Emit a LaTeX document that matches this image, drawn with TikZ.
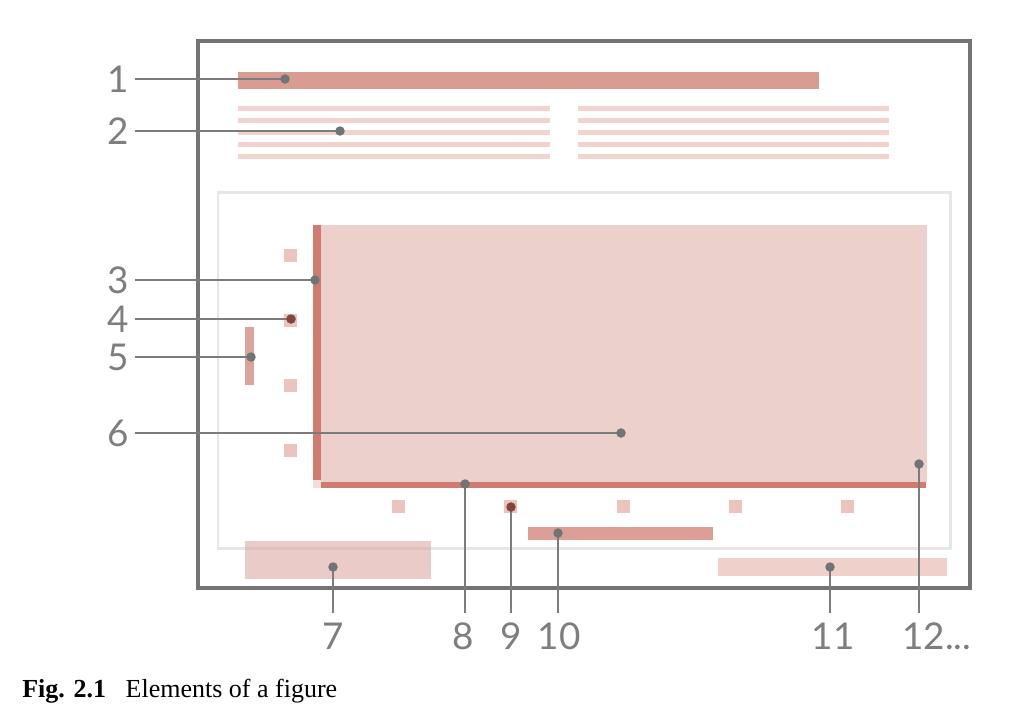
\documentclass[tikz,border=0pt]{standalone}
\usepackage{fontspec}
\setmainfont{Liberation Serif}
\newfontfamily\labelfont{Lato}
\usepackage{xcolor}
\definecolor{framegray}{HTML}{747474}
\definecolor{innergray}{HTML}{E6E6E6}
\definecolor{titlered}{HTML}{D99C93}
\definecolor{textpink}{HTML}{F2D3CE}
\definecolor{plotpink}{HTML}{ECD0CB}
\definecolor{axisred}{HTML}{CF7B70}
\definecolor{tickpink}{HTML}{EDC3BE}
\definecolor{ylabred}{HTML}{DCA39B}
\definecolor{xlabred}{HTML}{DB9F96}
\definecolor{sourcepink}{HTML}{DDA8A1}
\definecolor{notepink}{HTML}{F0D0CB}
\definecolor{dotgray}{HTML}{6F7575}
\definecolor{dotred}{HTML}{84443F}
\definecolor{leadgray}{HTML}{7C7C7C}
\definecolor{labelgray}{HTML}{7E7E7E}

\begin{document}
\begin{tikzpicture}[x=0.02cm, y=-0.02cm,
    leader/.style={draw=leadgray, line width=1.4pt},
    dotmark/.style={fill=dotgray},
    leftnum/.style={font=\labelfont\fontsize{21}{21}\selectfont, text=labelgray,
        inner xsep=3pt, inner ysep=0pt, anchor=east},
    bottomnum/.style={font=\labelfont\fontsize{21}{21}\selectfont, text=labelgray,
        inner xsep=0pt, inner ysep=5.5pt, anchor=north}]
    \useasboundingbox (0,0) rectangle (1023,721);

    % Page frame and figure frame
    \draw[line width=2.8pt, draw=framegray] (198,41) rectangle (970,588);
    \draw[line width=1.7pt, draw=innergray] (218,192) rectangle (950,548);

    % Title and body text
    \fill[titlered] (238,72) rectangle (819,89);
    \foreach \y in {108,120,132,144,156} {
        \fill[textpink] (238,\y-2.5) rectangle (550,\y+2.5);
        \fill[textpink] (578,\y-2.5) rectangle (889,\y+2.5);
    }

    % Plot area with axes
    \fill[plotpink] (321,225) rectangle (927,482);
    \fill[plotpink!70] (313,480) rectangle (321,488);
    \fill[axisred] (313,225) rectangle (321,480);
    \fill[axisred] (321,482) rectangle (926,488);

    % Tick labels and axis titles
    \foreach \y in {255,320,385,450}
        \fill[tickpink] (284,\y-6.5) rectangle (297,\y+6.5);
    \foreach \x in {398,510.5,623,735,847}
        \fill[tickpink] (\x-6.5,500) rectangle (\x+6.5,513);
    \fill[ylabred] (245,327) rectangle (254,385);
    \fill[xlabred] (528,527) rectangle (713,540);

    % Source and notes
    \fill[sourcepink, opacity=0.6] (245,541) rectangle (431,579);
    \fill[notepink] (718,558) rectangle (947,576);

    % Pointers
    \coordinate (d1) at (285,79);
    \coordinate (d2) at (340,131);
    \coordinate (d3) at (315,280);
    \coordinate (d4) at (291,319);
    \coordinate (d5) at (251,357);
    \coordinate (d6) at (621,433);
    \coordinate (d7) at (333,567);
    \coordinate (d8) at (465,484);
    \coordinate (d9) at (511,507);
    \coordinate (d10) at (558,533);
    \coordinate (d11) at (830,567);
    \coordinate (d12) at (919,464);

    \node[leftnum] (n1) at (135,79) {1};
    \node[leftnum] (n2) at (135,131) {2};
    \node[leftnum] (n3) at (135,280) {3};
    \node[leftnum] (n4) at (135,319) {4};
    \node[leftnum] (n5) at (135,357) {5};
    \node[leftnum] (n6) at (135,433) {6};
    \node[bottomnum] (n7) at (333,613) {7};
    \node[bottomnum] (n8) at (463,613) {8};
    \node[bottomnum] (n9) at (511,613) {9};
    \node[bottomnum] (n10) at (559,613) {10};
    \node[bottomnum] (n11) at (833,613) {11};
    \node[bottomnum, anchor=north west] (n12) at (902,613) {12...};

    \foreach \i in {1,...,6}
        \draw[leader] (n\i.east) -- (d\i);
    \foreach \i in {7,...,11}
        \draw[leader] (d\i) -- (d\i |- n\i.north);
    \draw[leader] (d12) -- (d12 |- n12.north);

    \foreach \i in {1,2,3,5,6,7,8,10,11,12}
        \fill[dotmark] (d\i) circle (0.095cm);
    \fill[dotred] (d4) circle (0.095cm);
    \fill[dotred] (d9) circle (0.095cm);

    % Caption
    \node[anchor=base west, inner sep=0pt, font=\fontsize{14.8}{17}\selectfont] (caption) at (22,697)
        {\textbf{Fig. 2.1}\hspace{0.75em}Elements of a figure};
\end{tikzpicture}
\end{document}
